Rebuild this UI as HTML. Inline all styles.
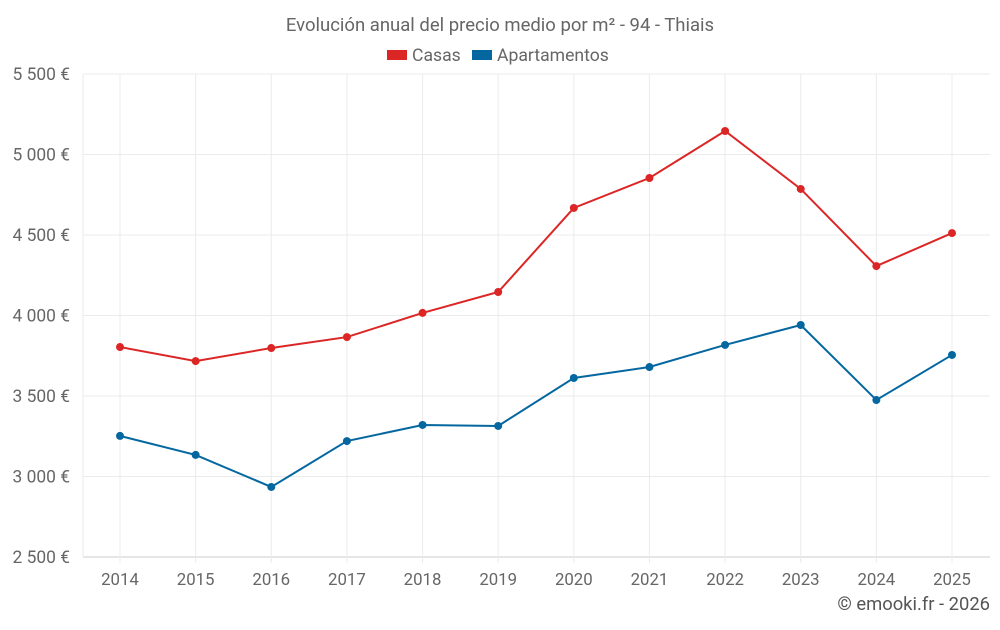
<!DOCTYPE html>
<html><head><meta charset="utf-8"><style>
body{margin:0;background:#fff;font-family:"Liberation Sans",sans-serif}
</style></head><body>
<svg id="chart" width="1000" height="625" xmlns="http://www.w3.org/2000/svg" font-family="Roboto,'Liberation Sans',sans-serif">
<text x="500" y="31" text-anchor="middle" font-size="18.5" fill="#666">Evolución anual del precio medio por m² - 94 - Thiais</text>
<g>
<g><rect x="387" y="50" width="20" height="10" fill="#dc2626"/><text x="412" y="61" font-size="17.6" fill="#666">Casas</text></g>
<g><rect x="472" y="50" width="20" height="10" fill="#0567a0"/><text x="497" y="61" font-size="17.6" fill="#666">Apartamentos</text></g>
</g>
<g id="grid"></g><g id="axes"></g><g id="series"></g>
<text x="990" y="610" text-anchor="end" font-size="18.4" fill="#555">© emooki.fr - 2026</text>
</svg>
<script>
const years=[2014,2015,2016,2017,2018,2019,2020,2021,2022,2023,2024,2025];
const casas=[3804,3717,3798,3866,4016,4146,4668,4854,5146,4786,4307,4512];
const apartamentos=[3252,3134,2935,3220,3320,3314,3612,3680,3817,3941,3475,3755];
const yTicks=[2500,3000,3500,4000,4500,5000,5500];
const yTickLabels=["2 500 €","3 000 €","3 500 €","4 000 €","4 500 €","5 000 €","5 500 €"];
const NS="http://www.w3.org/2000/svg";
const L=83,R=990,T=74,B=557;
const x=i=>120+i*(952-120)/(years.length-1);
const y=v=>B-(v-2500)/(5500-2500)*(B-T);
function mk(t,a,p){const e=document.createElementNS(NS,t);for(const k in a)e.setAttribute(k,a[k]);p.appendChild(e);return e;}
const grid=document.getElementById('grid'),axes=document.getElementById('axes'),series=document.getElementById('series');
yTicks.forEach((v,i)=>{
 const ln=mk('line',{x1:L,x2:R,y1:y(v),y2:y(v),stroke:i==0?'#ccc':'#ebebeb'},grid);
 
 
 const t=mk('text',{x:70,y:y(v)+6,'text-anchor':'end','font-size':17.4,fill:'#666'},axes);
 t.textContent=yTickLabels[i];
 
 
});
mk('line',{x1:L,x2:L,y1:T,y2:B,stroke:'#ebebeb'},grid);
years.forEach((yr,i)=>{
 const ln=mk('line',{x1:x(i),x2:x(i),y1:T,y2:B+6,stroke:'#ebebeb'},grid);
 
 
 const t=mk('text',{x:x(i),y:585,'text-anchor':'middle','font-size':16.8,fill:'#666'},axes);
 t.textContent=yr;
 
 
});
function draw(vals,color,name){
 const p=mk('polyline',{points:vals.map((v,i)=>x(i)+','+y(v)).join(' '),fill:'none',stroke:color,'stroke-width':2},series);
 
 
 vals.forEach((v,i)=>{
  const c=mk('circle',{cx:x(i),cy:y(v),r:4,fill:color},series);
  
  
 });
}
draw(casas,'#dc2626','casas');
draw(apartamentos,'#0567a0','apartamentos');
</script>
</body></html>
